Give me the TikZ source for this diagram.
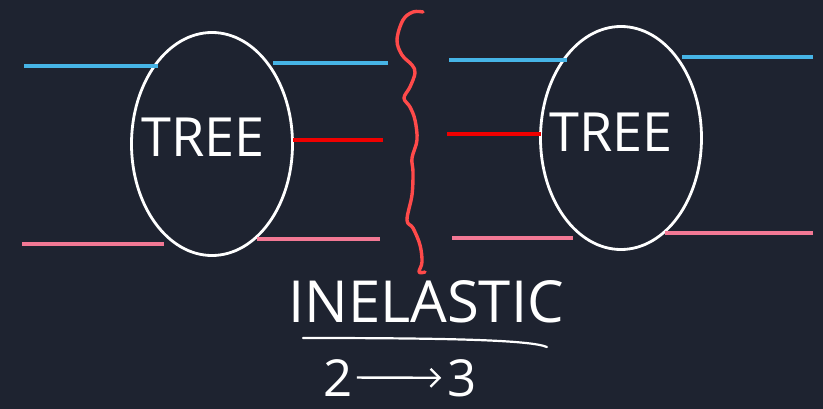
\documentclass[tikz,border=0pt]{standalone}
\usepackage{fontspec}
\setmainfont{Open Sans}
\usepackage{xcolor}
\definecolor{boardBg}{HTML}{1E2330}
\definecolor{lineBlue}{HTML}{46B4E6}
\definecolor{lineRed}{HTML}{F00000}
\definecolor{linePink}{HTML}{F27894}
\definecolor{cutRed}{HTML}{FF4A4A}
\usetikzlibrary{shapes.geometric,arrows.meta}

\begin{document}
\begin{tikzpicture}[x=1pt, y=-1pt,
  tree/.style={ellipse, draw=white, line width=2.8pt, inner sep=0pt, outer sep=0pt,
    minimum width=161pt, minimum height=223pt},
  leg/.style={line width=3.2pt},
  chalk/.style={text=white, inner sep=0pt}]
  \filldraw[fill=boardBg, draw=none] (0,0) rectangle (823,409);
  \node[tree] (treeL) at (212,144) {};
  \node[tree] (treeR) at (621,138) {};
  \node[chalk, font=\fontsize{54}{54}\selectfont] (labL) at (203,137) {TREE};
  \node[chalk, font=\fontsize{54}{54}\selectfont] (labR) at (611,132) {TREE};
  % free ends of the legs
  \coordinate (bL1) at (24,66);
  \coordinate (bR1) at (388,63);
  \coordinate (rR1) at (383,140);
  \coordinate (pL1) at (22,244);
  \coordinate (pR1) at (380,239);
  \coordinate (bL2) at (449,60);
  \coordinate (bR2) at (813,57);
  \coordinate (rL2) at (447,134);
  \coordinate (pL2) at (452,238);
  \coordinate (pR2) at (813,233);
  \draw[leg, lineBlue] (bL1) -- (bL1 -| treeL.123);
  \draw[leg, lineBlue] (bR1) -- (bR1 -| treeL.50);
  \draw[leg, lineRed] (rR1) -- (rR1 -| treeL.east);
  \draw[leg, linePink] (pL1) -- (pL1 -| treeL.242);
  \draw[leg, linePink] (pR1) -- (pR1 -| treeL.296);
  \draw[leg, lineBlue] (bL2) -- (bL2 -| treeR.123);
  \draw[leg, lineBlue] (bR2) -- (bR2 -| treeR.50);
  \draw[leg, lineRed] (rL2) -- (rL2 -| treeR.west);
  \draw[leg, linePink] (pL2) -- (pL2 -| treeR.242);
  \draw[leg, linePink] (pR2) -- (pR2 -| treeR.295);
  % the cut
  \draw[cutRed, line width=3.4pt, line cap=round, line join=round] plot[smooth, tension=0.6] coordinates {
    (423,12) (413,12) (403,20) (397,40) (402,55) (412,65) (415,73) (410,87) (404,98)
    (410,107) (415,120) (417,140) (412,158) (413,172) (412,195) (407,220) (413,228)
    (420,245) (422,262) (419,272) (425,272)};
  % caption
  \node[chalk, font=\fontsize{58}{58}\selectfont, anchor=base] (title) at (426,322) {INELASTIC};
  \coordinate (ulA) at (303,338);
  \coordinate (ulB) at (547,347);
  \draw[white, line width=2.2pt, line cap=round] (ulA) .. controls (450,338) and (530,340) .. (ulB);
  \node[chalk, font=\fontsize{51}{51}\selectfont, anchor=base] (two) at (338,396) {2};
  \node[chalk, font=\fontsize{51}{51}\selectfont, anchor=base] (three) at (462,396) {3};
  \draw[white, line width=2.4pt, -{Straight Barb[length=9pt, width=18pt]}] ([xshift=4pt]two.east) -- ([xshift=-6pt]three.west);
\end{tikzpicture}
\end{document}
